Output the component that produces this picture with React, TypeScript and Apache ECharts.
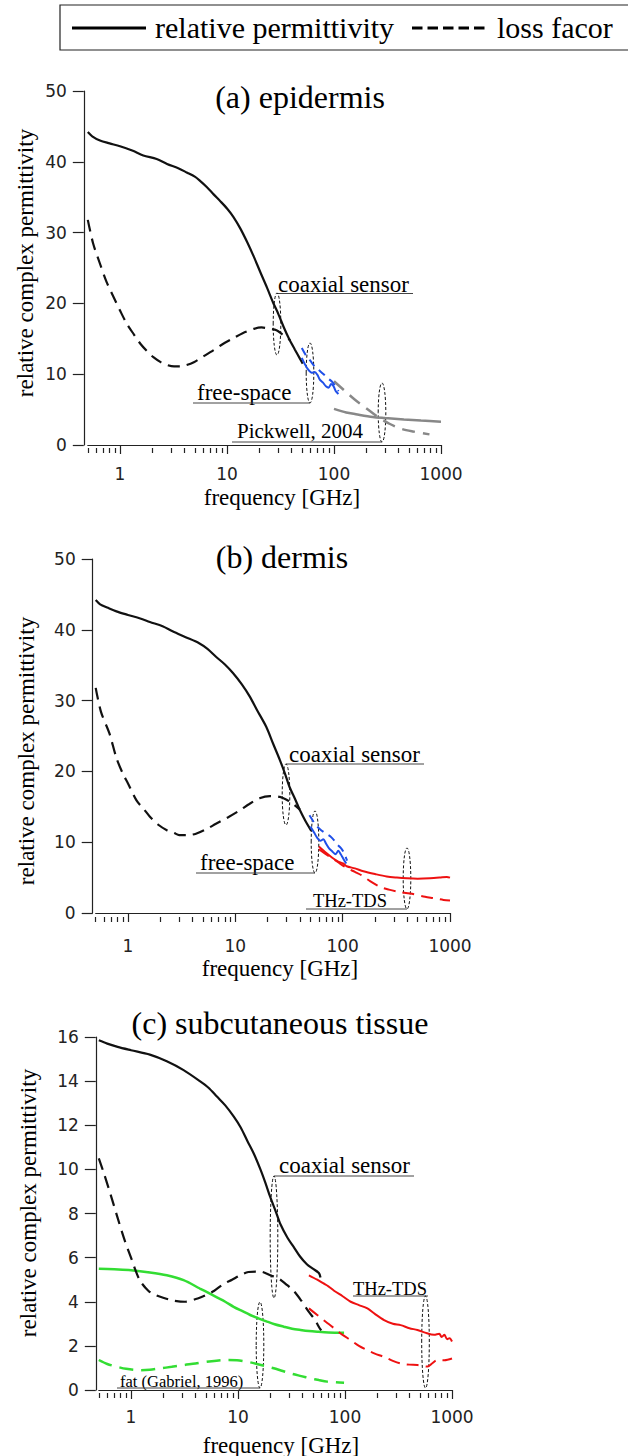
import React, { useEffect, useRef } from 'react';
import * as echarts from 'echarts';

// ---------- data (frequency GHz, value) ----------
const MAJOR_TICKS = [1, 10, 100, 1000];
const MINOR_TICKS = [0.5, 0.6, 0.7, 0.8, 0.9, 2, 3, 4, 5, 6, 7, 8, 9, 20, 30, 40, 50, 60, 70, 80, 90, 200, 300, 400, 500, 600, 700, 800, 900];

// (a) epidermis
const epiCoaxPerm = [[0.5,44.2],[0.55,43.6],[0.65,43.0],[0.8,42.6],[1,42.2],[1.3,41.6],[1.65,40.9],[2.2,40.4],[2.75,39.7],[3.5,39.1],[4.2,38.5],[5,37.9],[5.6,37.3],[6.5,36.4],[7.5,35.4],[8.7,34.4],[10,33.4],[11.5,32.2],[13.3,30.6],[15.5,28.6],[17.8,26.6],[20.5,24.4],[23.7,22.2],[27,20.1],[30,18.6],[34,16.6],[38,15.0],[43,13.5],[48,12.2],[51,11.5]];
const epiCoaxLoss = [[0.5,31.8],[0.56,28.5],[0.65,25.6],[0.75,23],[0.87,20.9],[1,19],[1.15,17.2],[1.35,15.6],[1.55,14.3],[1.8,13.2],[2.05,12.4],[2.4,11.7],[2.75,11.3],[3.2,11.1],[3.65,11.1],[4.2,11.3],[4.9,11.7],[6,12.5],[7.5,13.4],[9,14.2],[11.5,15.1],[14,15.8],[17.8,16.4],[21,16.6],[25.5,16.4],[29,16.2],[33,15.6],[39,14.8]];
const epiFreePerm = [[50,12.3],[53,11.5],[57,10.7],[62,10.2],[66,10.3],[70,9.9],[74,9.2],[79,8.8],[84,8.3],[89,8.1],[94,8.6],[99,8.3],[104,7.6],[110,7.2]];
const epiFreeLoss = [[50,13.7],[55,12.6],[60,11.9],[66,11.1],[72,10.6],[80,10.0],[88,9.4],[95,9.0],[102,8.4],[110,7.6]];
const epiPickPerm = [[100,5.1],[130,4.6],[160,4.35],[230,3.95],[300,3.8],[450,3.6],[650,3.45],[1000,3.3]];
const epiPickLoss = [[100,9.0],[125,7.7],[154,6.5],[200,5.2],[255,4.0],[330,3.0],[422,2.3],[550,1.9],[780,1.5]];

// (b) dermis
const derCoaxPerm = [[0.5,44.2],[0.55,43.6],[0.65,43.1],[0.78,42.6],[1,42.1],[1.3,41.6],[1.6,41.1],[2.1,40.5],[2.6,39.8],[3.4,39.0],[4.6,38.1],[5.5,37.3],[6.6,36.2],[8,35.1],[9.5,33.9],[11.5,32.3],[13.6,30.6],[16,28.6],[19.4,26.3],[22.5,23.9],[26,21.6],[29,19.7],[32,17.8],[36,16.1],[40,14.5],[45,13],[51,11.6]];
const derCoaxLoss = [[0.5,31.8],[0.56,28.4],[0.67,25.4],[0.78,21.9],[0.9,19.6],[1.0,18.3],[1.2,15.9],[1.4,14.7],[1.6,13.6],[1.9,12.5],[2.3,11.7],[2.7,11.3],[3.0,11.0],[3.6,11.0],[4.3,11.2],[5.3,11.8],[6.6,12.6],[8.5,13.5],[11,14.5],[13.5,15.4],[16.8,16.2],[21,16.5],[26,16.4],[30,16.0],[34,15.5],[40,14.6]];
const derFreePerm = [[50,12.2],[54,11.4],[58,10.6],[62,10.2],[66,10.4],[70,9.8],[75,9.1],[80,8.7],[86,8.3],[91,8.8],[96,8.3],[102,7.6],[108,7.0]];
const derFreeLoss = [[49,13.8],[53,13.0],[57,12.3],[63,11.7],[70,11.2],[77,10.8],[84,10.2],[90,9.6],[96,9.2],[102,8.6],[110,7.4]];
const derTHzPerm = [[60,9.4],[70,8.5],[80,7.8],[90,7.3],[101,7.0],[109,6.6],[130,6.3],[156,5.9],[200,5.5],[257,5.15],[320,5.0],[398,4.9],[500,4.85],[650,4.9],[800,5.0],[935,5.1],[1000,5.0]];
const derTHzLoss = [[60,9.0],[75,8.0],[90,7.2],[108,6.4],[130,5.8],[151,5.3],[180,4.5],[223,3.7],[270,3.3],[330,3.0],[425,2.75],[586,2.3],[700,2.1],[871,1.85],[1000,1.75]];

// (c) subcutaneous tissue
const subCoaxPerm = [[0.5,15.85],[0.6,15.7],[0.75,15.55],[1,15.4],[1.5,15.2],[2.16,14.9],[3.1,14.5],[4.4,14.0],[5.3,13.7],[6.35,13.3],[7.6,12.9],[9.1,12.4],[10.6,11.9],[12.2,11.3],[14.1,10.7],[16.2,10.0],[18,9.4],[20,8.75],[22.5,8.1],[25,7.5],[29,6.9],[33,6.5],[38,6.05],[44,5.7],[50,5.5],[57,5.3],[59,5.1]];
const subCoaxLoss = [[0.5,10.5],[0.56,9.8],[0.65,8.8],[0.75,7.8],[0.87,6.8],[1.0,6.0],[1.2,5.0],[1.45,4.5],[1.7,4.3],[2.1,4.15],[2.5,4.05],[3.2,4.0],[4.2,4.15],[5.0,4.3],[6,4.5],[7.3,4.8],[8.8,5.0],[10.5,5.2],[12.5,5.35],[15,5.37],[17,5.35],[20,5.2],[24,5.05],[28,4.8],[33,4.5],[39,4.05],[45,3.6],[52,3.2],[58,2.8],[60,2.7]];
const fatPerm = [[0.5,5.5],[0.7,5.47],[1,5.43],[1.5,5.33],[2.16,5.2],[3.1,4.98],[4.4,4.6],[5.3,4.4],[6.35,4.2],[7.6,4.0],[9.1,3.77],[11,3.57],[13,3.4],[15.5,3.25],[18.7,3.1],[22,2.98],[26.8,2.87],[32,2.78],[38.4,2.72],[46,2.67],[55,2.64],[70,2.61],[98,2.6]];
const fatLoss = [[0.5,1.36],[0.6,1.18],[0.73,1.06],[0.9,0.96],[1.21,0.9],[1.5,0.92],[1.87,0.98],[2.4,1.05],[3.1,1.13],[4,1.2],[5.1,1.28],[6.3,1.33],[7.9,1.36],[9.8,1.35],[12.2,1.28],[15,1.18],[18.7,1.06],[24,0.92],[31,0.75],[39,0.63],[47.5,0.53],[57,0.45],[68,0.38],[82,0.35],[98,0.33]];
const subTHzPerm = [[46,5.2],[55,5.0],[63,4.83],[70,4.7],[79,4.5],[95,4.25],[113,4.0],[135,3.85],[162,3.7],[190,3.45],[232,3.17],[280,3.0],[331,2.94],[400,2.8],[475,2.72],[560,2.6],[680,2.5],[760,2.55],[800,2.4],[850,2.5],[900,2.3],[950,2.35],[1000,2.2]];
const subTHzLoss = [[46,3.7],[55,3.4],[63,3.17],[70,3.0],[79,2.8],[95,2.5],[113,2.26],[135,2.0],[162,1.8],[190,1.65],[232,1.5],[280,1.32],[331,1.2],[400,1.15],[475,1.13],[590,1.06],[650,1.2],[730,1.36],[850,1.35],[1000,1.43]];

const Y_TICKS_AB = { min: 0, max: 50, interval: 10 };
const Y_TICKS_C = { min: 0, max: 16, interval: 2 };

const SERIF = "'Liberation Serif', 'Times New Roman', serif";
const SANS = "'DejaVu Sans', sans-serif";
const BLACK = '#111';
const BLUE = '#1f4fe8';
const RED = '#ee1111';
const GREEN = '#33dd33';
const GRAY = '#888888';

export default function App() {
  const ref = useRef<HTMLDivElement>(null);
  useEffect(() => {
    document.body.style.margin = '0';
    const chart = echarts.init(ref.current!, undefined, { renderer: 'svg' });

    const grids = [
      { left: 87.8, top: 91, width: 353.2, height: 354, yOff: 4, xOff: 3, lblMargin: 17 },
      { left: 95.7, top: 559, width: 354.3, height: 354, yOff: 3, xOff: 4, lblMargin: 20 },
      { left: 98.8, top: 1037, width: 353.2, height: 353, yOff: 3, xOff: 3, lblMargin: 15 },
    ];

    const xMajor = grids.map((g, i) => ({
      type: 'log', logBase: 10, min: 0.5, max: 1000, gridIndex: i, position: 'bottom', offset: g.xOff,
      axisLine: { show: true, lineStyle: { color: '#222', width: 1.2 } },
      axisTick: { show: true, inside: false, length: 9, customValues: MAJOR_TICKS, lineStyle: { color: '#222', width: 1.2 } },
      axisLabel: {
        show: true, customValues: MAJOR_TICKS, margin: g.lblMargin, fontFamily: SANS, fontSize: 17, color: '#222',
        formatter: (v: number) => String(Math.round(v)),
      },
      splitLine: { show: false },
    }));
    const xMinor = grids.map((g, i) => ({
      type: 'log', logBase: 10, min: 0.5, max: 1000, gridIndex: i, position: 'bottom', offset: g.xOff,
      axisLine: { show: false },
      axisTick: { show: true, inside: false, length: 5, customValues: MINOR_TICKS, lineStyle: { color: '#222', width: 1.2 } },
      axisLabel: { show: false },
      splitLine: { show: false },
    }));

    const yAxes = grids.map((g, i) => ({
      type: 'value', gridIndex: i, position: 'left', offset: g.yOff,
      ...(i < 2 ? Y_TICKS_AB : Y_TICKS_C),
      axisLine: { show: true, lineStyle: { color: '#222', width: 1.2 } },
      axisTick: { show: true, inside: false, length: 11, lineStyle: { color: '#222', width: 1.2 } },
      axisLabel: { margin: 17, fontFamily: SANS, fontSize: 17, color: '#222' },
      splitLine: { show: false },
    }));

    const ln = (data: number[][], g: number, color: string, dash: number[] | null, width = 2.2, z = 2) => ({
      type: 'line', data, xAxisIndex: g, yAxisIndex: g, symbol: 'none', showSymbol: false, smooth: 0.3,
      silent: true, z,
      lineStyle: { color, width, type: dash ? dash : 'solid', cap: 'butt' },
    });

    const D_BLACK = [12, 7];
    const D_BLUE = [8, 6];
    const D_GRAY = [13, 8];
    const D_RED = [12, 7];
    const D_GREEN = [14, 8];

    const series = [
      ln(epiPickPerm, 0, GRAY, null, 2.5, 1),
      ln(epiPickLoss, 0, GRAY, D_GRAY, 2.5, 1),
      ln(epiCoaxPerm, 0, BLACK, null, 2.2, 2),
      ln(epiCoaxLoss, 0, BLACK, D_BLACK, 2.2, 2),
      ln(epiFreePerm, 0, BLUE, null, 2, 3),
      ln(epiFreeLoss, 0, BLUE, D_BLUE, 2, 3),

      ln(derTHzPerm, 1, RED, null, 2, 1),
      ln(derTHzLoss, 1, RED, D_RED, 2, 1),
      ln(derCoaxPerm, 1, BLACK, null, 2.2, 2),
      ln(derCoaxLoss, 1, BLACK, D_BLACK, 2.2, 2),
      ln(derFreePerm, 1, BLUE, null, 2, 3),
      ln(derFreeLoss, 1, BLUE, D_BLUE, 2, 3),

      ln(fatPerm, 2, GREEN, null, 2.5, 1),
      ln(fatLoss, 2, GREEN, D_GREEN, 2.5, 1),
      ln(subTHzPerm, 2, RED, null, 2, 1),
      ln(subTHzLoss, 2, RED, D_RED, 2, 1),
      ln(subCoaxPerm, 2, BLACK, null, 2.2, 2),
      ln(subCoaxLoss, 2, BLACK, D_BLACK, 2.2, 2),
    ];

    const txt = (text: string, x: number, y: number, size: number, align = 'left', rotation = 0) => ({
      type: 'text', x, y, rotation, silent: true,
      style: { text, fill: '#000', fontFamily: SERIF, fontSize: size, align, verticalAlign: 'middle' },
    });
    const hline = (x1: number, x2: number, y: number) => ({
      type: 'line', silent: true, shape: { x1, y1: y, x2, y2: y }, style: { stroke: '#444', lineWidth: 1 },
    });
    const ell = (cx: number, top: number, bottom: number, rx = 3.8) => ({
      type: 'ellipse', silent: true,
      shape: { cx, cy: (top + bottom) / 2, rx, ry: (bottom - top) / 2 },
      style: { fill: 'none', stroke: '#111', lineWidth: 1, lineDash: [3, 2] },
    });

    const graphic = [
      // legend
      { type: 'rect', silent: true, shape: { x: 60, y: 5, width: 600, height: 45 }, style: { fill: '#fff', stroke: '#222', lineWidth: 1.2 } },
      { type: 'line', silent: true, shape: { x1: 72, y1: 28, x2: 146, y2: 28 }, style: { stroke: '#000', lineWidth: 3 } },
      txt('relative permittivity', 155, 27, 30),
      { type: 'line', silent: true, shape: { x1: 412, y1: 28, x2: 487, y2: 28 }, style: { stroke: '#000', lineWidth: 3, lineDash: [10.5, 5] } },
      txt('loss facor', 497, 27, 30),

      // titles
      txt('(a) epidermis', 300, 97, 32, 'center'),
      txt('(b) dermis', 282, 557, 32, 'center'),
      txt('(c) subcutaneous tissue', 280, 1023, 32, 'center'),

      // axis names
      txt('relative complex permittivity', 25, 263, 23, 'center', Math.PI / 2),
      txt('relative complex permittivity', 26, 751, 23, 'center', Math.PI / 2),
      txt('relative complex permittivity', 28, 1203, 23, 'center', Math.PI / 2),
      txt('frequency [GHz]', 282, 497, 23, 'center'),
      txt('frequency [GHz]', 280, 968, 23, 'center'),
      txt('frequency [GHz]', 281, 1445, 23, 'center'),

      // annotations (a)
      txt('coaxial sensor', 278, 284, 23),
      hline(277, 413, 293.5),
      ell(277, 293, 355),
      txt('free-space', 197, 392, 23),
      hline(193, 310, 403),
      ell(310, 343, 403),
      txt('Pickwell, 2004', 237, 431, 21),
      hline(232, 382, 442),
      ell(382, 383, 442),

      // annotations (b)
      txt('coaxial sensor', 289, 754, 23),
      hline(286, 424, 764),
      ell(286, 764, 825),
      txt('free-space', 200, 862, 23),
      hline(196, 315, 873),
      ell(315, 811, 873),
      txt('THz-TDS', 313, 901, 18.5),
      hline(306, 407, 909),
      ell(407, 848, 909),

      // annotations (c)
      txt('coaxial sensor', 279, 1165, 23),
      hline(274, 414, 1176),
      ell(274, 1176, 1298),
      txt('THz-TDS', 353, 1289, 18.5),
      hline(353, 428, 1296),
      ell(425.5, 1296, 1388),
      txt('fat (Gabriel, 1996)', 120, 1381, 16.5),
      hline(117, 260, 1388),
      ell(260, 1302, 1388),
    ];

    chart.setOption({
      animation: false,
      backgroundColor: '#fff',
      grid: grids.map(g => ({ left: g.left, top: g.top, width: g.width, height: g.height, containLabel: false })),
      xAxis: [...xMajor, ...xMinor],
      yAxis: yAxes,
      series,
      graphic,
    });
    return () => chart.dispose();
  }, []);
  return <div ref={ref} style={{ width: 628, height: 1456 }} />;
}
